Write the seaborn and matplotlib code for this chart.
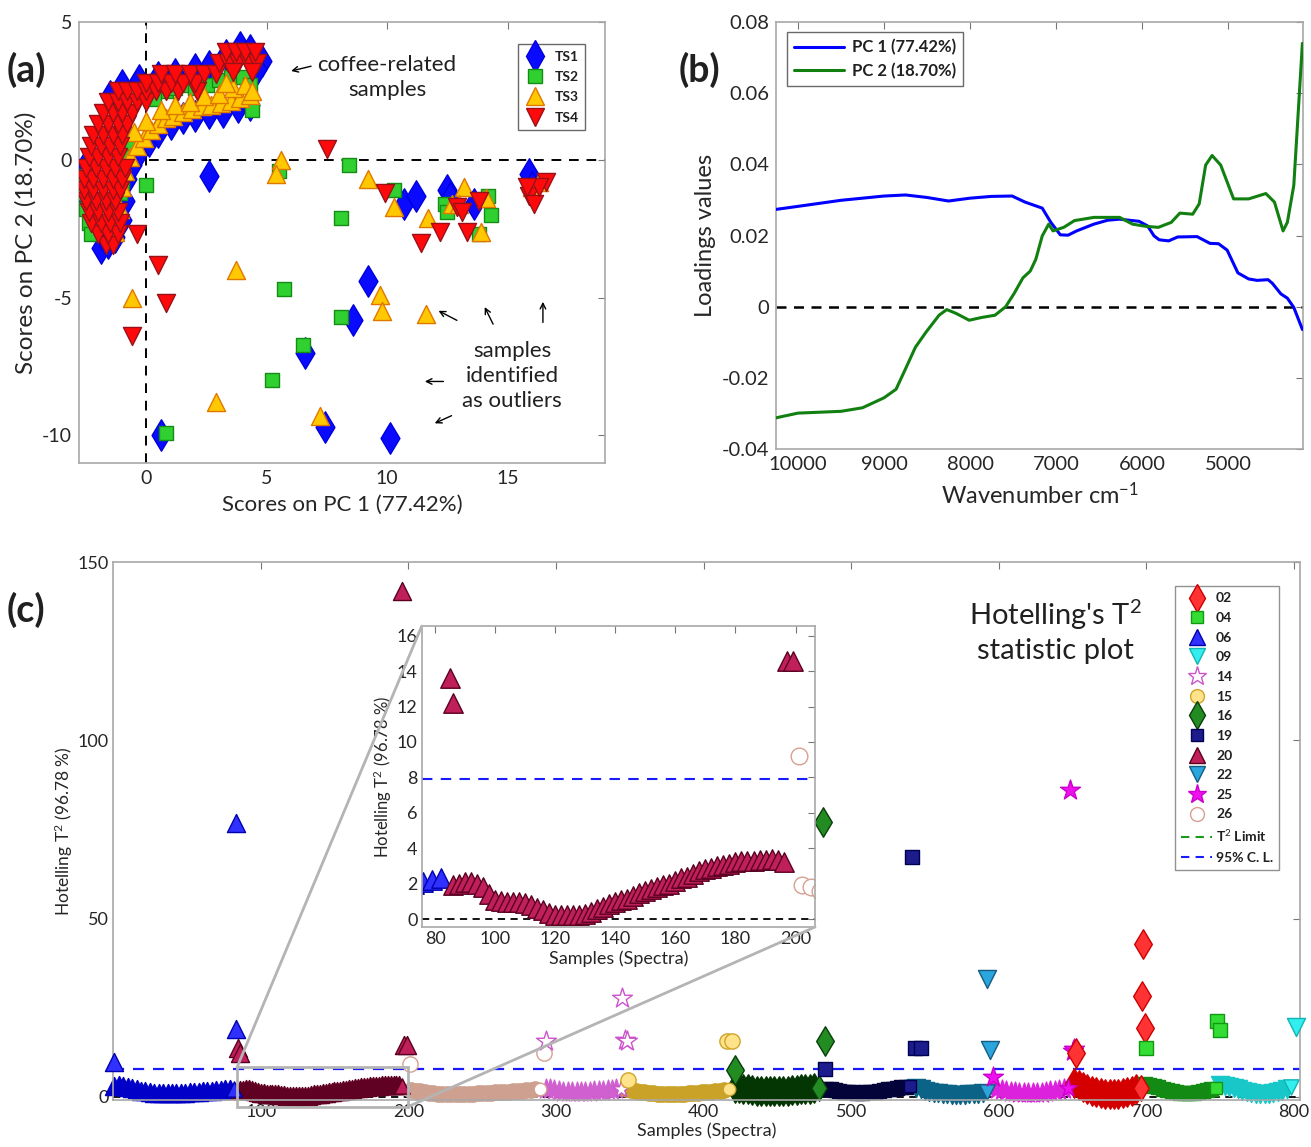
"""PCA scores / loadings and Hotelling T2 plot."""
import numpy as np
import pandas as pd
import matplotlib
matplotlib.use("Agg")
import matplotlib.pyplot as plt
from matplotlib.lines import Line2D
from matplotlib.patches import Rectangle, ConnectionPatch
import seaborn as sns

# ---------------- panel (a): PCA scores ----------------
ts1_x = [-1.9, -1.6, -1.3, -1.0, -0.9, -0.8, -0.6, -0.3, 0.1, 0.5, 1.0, 1.5, 2.0, 2.6, 3.2, 3.8,
         4.3, -1.5, -1.0, -0.3, 0.5, 1.2, 2.0, 2.6, 3.3, 3.9, 4.3, 4.8, 4.6, -2.6, -2.5,
         2.6, 9.2, 8.6, 6.6, 7.4, 10.1, 0.6, 10.7, 11.2, 12.5, 12.6, 13.6, 15.9, 16.0]
ts1_y = [-3.2, -3.0, -2.8, -2.2, -1.5, -0.7, -0.2, 0.3, 0.7, 1.0, 1.3, 1.5, 1.6, 1.7, 1.75, 1.9,
         2.0, 2.3, 2.7, 2.9, 3.0, 3.1, 3.3, 3.4, 3.8, 4.1, 4.0, 3.6, 3.3, -0.3, -1.5,
         -0.6, -4.4, -5.8, -7.0, -9.7, -10.1, -10.0, -1.6, -1.3, -1.1, -1.4, -1.6, -0.5, -1.0]
ts2_x = [-2.6, -2.6, -2.5, -2.4, -2.3, -1.1, -1.0, -1.1, -0.9, 0.8, 1.2, 1.6, 2.0, 2.5, 3.0, 3.5,
         4.0, 4.3, 4.4, 0.3, -0.6,
         0.0, 5.5, 8.4, 8.1, 10.3, 12.4, 12.5, 14.2, 14.3, 13.8, 5.7, 8.1, 6.5, 5.2, 0.8]
ts2_y = [-0.6, -1.2, -1.8, -2.3, -2.7, -0.3, -0.8, -1.2, 0.2, 2.5, 2.6, 2.7, 2.6, 2.7, 2.9, 3.0,
         3.0, 2.7, 1.8, 2.2, 0.6,
         -0.9, -0.4, -0.2, -2.1, -1.1, -1.6, -1.9, -1.3, -2.0, -2.7, -4.7, -5.7, -6.7, -8.0, -9.9]
ts3_x = [-1.3, -1.1, -1.0, -0.9, -0.7, -0.4, -0.1, 0.2, 0.5, 0.8, 1.1, 1.5, 1.9, 2.3, 2.7, 3.1,
         3.5, 3.9, 4.3, -0.5, 0.0, 0.6, 1.2, 1.8, 2.4, 3.0, 3.6, 4.1, 4.4, 3.3,
         5.6, 5.4, 9.2, 10.3, 11.7, 13.2, 12.7, 13.0, 14.1, 13.9, 3.7, 9.7, 9.8, 11.6, -0.6, 2.9,
         7.2, 16.0, 16.3]
ts3_y = [-2.6, -1.8, -1.0, -0.4, 0.1, 0.5, 0.8, 1.1, 1.3, 1.5, 1.6, 1.75, 1.85, 1.95, 2.0, 2.05,
         2.15, 2.25, 2.35, 1.0, 1.4, 1.8, 2.0, 2.1, 2.3, 2.4, 2.6, 2.7, 2.5, 2.8,
         0.0, -0.5, -0.7, -1.7, -2.1, -1.0, -1.6, -1.6, -1.4, -2.6, -4.0, -4.9, -5.5, -5.6, -5.0,
         -8.8, -9.3, -1.0, -0.8]
ts4_x = [-1.7, -1.4, -2.0, -1.6, -1.2, -2.3, -1.9, -1.5, -1.1, -2.4, -2.0, -1.6, -1.2,
         -2.5, -2.1, -1.7, -1.3, -2.6, -2.2, -1.8, -1.4, -1.1, -2.6, -2.2, -1.8, -1.4, -1.0,
         -2.5, -2.1, -1.7, -1.3, -0.9, -2.4, -2.0, -1.6, -1.2, -2.3, -1.9, -1.5, -1.1,
         -2.2, -1.8, -1.4, -1.0, -2.0, -1.6, -1.2, -0.8, -1.8, -1.4, -1.0, -0.6,
         -1.6, -1.2, -0.8, -0.4, 0.0, -1.2, -0.8, -0.4, 0.0, 0.4, 0.8, 1.3, 2.1,
         0.0, 0.5, 1.0, 1.5, 2.0, 0.6, 1.2, 1.8, 2.4, 2.9, 3.0, 3.4, 3.8, 4.2, 4.6,
         3.3, 3.7, 4.1, 4.5, 3.6, 4.4,
         7.5, 9.9, 11.4, 12.2, 13.3, 12.9, 13.1, 13.8, -0.4, 0.5, 0.8, -0.6, 15.9, 16.1, 16.6,
         16.3, 15.8]
ts4_y = [-3.1, -3.1, -2.7, -2.7, -2.7, -2.3, -2.3, -2.3, -2.3, -1.9, -1.9, -1.9, -1.9,
         -1.5, -1.5, -1.5, -1.5, -1.1, -1.1, -1.1, -1.1, -1.1, -0.7, -0.7, -0.7, -0.7, -0.7,
         -0.3, -0.3, -0.3, -0.3, -0.3, 0.1, 0.1, 0.1, 0.1, 0.5, 0.5, 0.5, 0.5,
         0.9, 0.9, 0.9, 0.9, 1.3, 1.3, 1.3, 1.3, 1.7, 1.7, 1.7, 1.7,
         2.1, 2.1, 2.1, 2.1, 2.1, 2.5, 2.5, 2.5, 2.5, 2.5, 2.5, 2.5, 2.5,
         2.8, 2.8, 2.8, 2.8, 2.8, 3.1, 3.1, 3.1, 3.1, 3.1, 3.5, 3.5, 3.5, 3.5, 3.5,
         3.9, 3.9, 3.9, 3.9, 3.2, 3.2,
         0.4, -1.2, -3.0, -2.6, -2.6, -1.7, -1.9, -1.5, -2.7, -3.8, -5.2, -6.4, -1.3, -1.6, -0.8,
         -1.0, -1.0]

# ---------------- panel (b): loadings ----------------
pc1_wn = [10270, 10000, 9500, 9000, 8750, 8500, 8250, 8000, 7750, 7510, 7360, 7160, 7060, 6950,
          6860, 6760, 6560, 6400, 6260, 6035, 5935, 5860, 5800, 5690, 5585, 5360, 5210, 5110,
          5010, 4885, 4760, 4660, 4535, 4485, 4385, 4310, 4235, 4135]
pc1_val = [0.0273, 0.0282, 0.0299, 0.0311, 0.0314, 0.0307, 0.0297, 0.0305, 0.0310, 0.0311,
           0.0294, 0.0277, 0.0237, 0.0202, 0.0201, 0.0213, 0.0232, 0.0243, 0.0246, 0.0240,
           0.0227, 0.0199, 0.0188, 0.0185, 0.0196, 0.0197, 0.0178, 0.0177, 0.0159, 0.0095,
           0.0078, 0.0074, 0.0076, 0.0066, 0.0036, 0.0024, -0.0002, -0.0064]
pc2_wn = [10270, 10000, 9500, 9250, 9000, 8860, 8760, 8635, 8510, 8360, 8270, 8160, 8010, 7860,
          7710, 7585, 7485, 7385, 7300, 7235, 7160, 7085, 7035, 6910, 6785, 6560, 6260, 6110,
          5960, 5810, 5660, 5560, 5410, 5335, 5260, 5185, 5085, 4935, 4760, 4560, 4460, 4360,
          4310, 4235, 4135]
pc2_val = [-0.0313, -0.0299, -0.0294, -0.0284, -0.0256, -0.0232, -0.0180, -0.0114, -0.0071,
           -0.0024, -0.0008, -0.0019, -0.0038, -0.0030, -0.0024, 0.0000, 0.0038, 0.0081, 0.0100,
           0.0133, 0.0199, 0.0232, 0.0213, 0.0223, 0.0242, 0.0251, 0.0251, 0.0232, 0.0226,
           0.0223, 0.0237, 0.0263, 0.0260, 0.0289, 0.0398, 0.0425, 0.0398, 0.0303, 0.0303,
           0.0318, 0.0294, 0.0213, 0.0237, 0.0341, 0.0740]

# ---------------- panel (c): Hotelling T2 per sample group ----------------
g06_x = np.arange(1, 84, 3)
g06_y = [3.2, 3.4, 3.0, 2.7, 2.4, 2.1, 1.8, 1.6, 1.4, 1.2, 1.1, 1.0, 1.0, 1.0, 1.1, 1.1, 1.2, 1.3,
         1.4, 1.5, 1.6, 1.7, 1.8, 1.9, 2.0, 2.1, 2.2, 2.3]
g06_ox, g06_oy = [1, 83, 83], [9.8, 76.7, 19.1]

g20_x = np.arange(86, 197, 2)
g20_y = [1.9, 2.0, 2.1, 2.1, 2.0, 1.8, 1.4, 1.1, 1.0, 0.95, 0.95, 0.95, 0.9, 0.8, 0.6, 0.5,
         0.35, 0.25, 0.2, 0.2, 0.2, 0.25, 0.3, 0.4, 0.55, 0.7, 0.85, 0.95, 1.05, 1.15, 1.3, 1.45,
         1.6, 1.7, 1.8, 1.9, 2.0, 2.15, 2.3, 2.4, 2.55, 2.7, 2.8, 2.9, 3.0, 3.05, 3.1, 3.2, 3.25,
         3.3, 3.3, 3.35, 3.35, 3.4, 3.35, 3.2]
g20_ox, g20_oy = [85, 86, 196, 197, 199], [13.6, 12.2, 142.0, 14.6, 14.6]

g26_x = np.arange(202, 290, 3)
g26_y = [1.9, 1.8, 1.6, 1.4, 1.2, 1.0, 0.9, 0.8, 0.7, 0.7, 0.7, 0.7, 0.8, 0.8, 0.9, 1.0, 1.0, 1.1,
         1.2, 1.3, 1.4, 1.4, 1.5, 1.6, 1.7, 1.8, 1.9, 2.0, 2.1, 2.2]
g26_ox, g26_oy = [201, 292], [9.2, 12.3]

g14_x = np.arange(293, 345, 3)
g14_y = [2.3, 2.1, 1.9, 1.7, 1.5, 1.4, 1.3, 1.3, 1.3, 1.4, 1.5, 1.6, 1.7, 1.8, 1.9, 2.0, 2.1, 2.2]
g14_ox, g14_oy = [293, 345, 347, 348], [15.7, 27.8, 15.9, 15.6]

g15_x = np.arange(348, 418, 3)
g15_y = [2.2, 2.0, 1.8, 1.5, 1.3, 1.1, 1.0, 0.9, 0.8, 0.8, 0.8, 0.8, 0.9, 0.9, 1.0, 1.1, 1.2, 1.3,
         1.4, 1.5, 1.7, 1.8, 2.0, 2.2]
g15_ox, g15_oy = [349, 416, 419], [4.8, 15.7, 15.8]

g16_x = np.arange(421, 480, 3)
g16_y = [2.6, 2.5, 2.3, 2.1, 1.9, 1.8, 1.7, 1.6, 1.6, 1.6, 1.6, 1.7, 1.8, 1.9, 2.0, 2.1, 2.2, 2.3,
         2.4, 2.5]
g16_ox, g16_oy = [421, 481, 482], [7.6, 77.0, 15.8]

g19_x = np.arange(483, 541, 3)
g19_y = [2.3, 2.1, 1.9, 1.7, 1.5, 1.4, 1.3, 1.2, 1.2, 1.3, 1.4, 1.5, 1.7, 1.9, 2.1, 2.3, 2.5, 2.7,
         2.9, 3.0]
g19_ox, g19_oy = [482, 541, 543, 547], [7.9, 67.4, 13.8, 13.8]

g22_x = np.arange(544, 593, 3)
g22_y = [2.4, 2.1, 1.8, 1.5, 1.2, 1.0, 0.8, 0.7, 0.6, 0.6, 0.6, 0.6, 0.7, 0.8, 0.9, 1.1, 1.4]
g22_ox, g22_oy = [592, 594], [33.2, 13.2]

g25_x = np.arange(596, 648, 3)
g25_y = [2.4, 2.2, 2.0, 1.7, 1.5, 1.3, 1.1, 1.0, 1.0, 1.0, 1.1, 1.2, 1.4, 1.6, 1.8, 2.0, 2.2, 2.4]
g25_ox, g25_oy = [596, 648, 650, 651], [5.6, 86.0, 12.9, 13.4]

g02_x = np.arange(651, 697, 3)
g02_y = [3.8, 3.3, 2.8, 2.3, 1.8, 1.4, 1.1, 0.9, 0.8, 0.8, 0.9, 1.1, 1.4, 1.8, 2.2, 2.5]
g02_ox, g02_oy = [652, 698, 697, 699], [12.2, 43.0, 28.2, 19.4]

g04_x = np.arange(699, 748, 3)
g04_y = [3.5, 3.3, 3.0, 2.7, 2.3, 2.0, 1.7, 1.4, 1.2, 1.1, 1.1, 1.2, 1.4, 1.6, 1.9, 2.2, 2.5]
g04_ox, g04_oy = [700, 748, 750], [13.7, 21.3, 18.9]

g09_x = np.arange(750, 799, 3)
g09_y = [3.4, 3.2, 2.9, 2.5, 2.1, 1.7, 1.3, 1.0, 0.8, 0.7, 0.7, 0.8, 1.0, 1.3, 1.7, 2.2, 2.8]
g09_ox, g09_oy = [801], [19.6]

cl95 = 7.9

# group styles: label, data, marker, size, face, edge, dense-band colour
groups = [
    ("06", g06_x, g06_y, g06_ox, g06_oy, "^", 13, "#3030ff", "#0000b0", "#0000c8"),
    ("20", g20_x, g20_y, g20_ox, g20_oy, "^", 13, "#c0205a", "#5a0020", "#600022"),
    ("26", g26_x, g26_y, g26_ox, g26_oy, "o", 11, "white", "#d6a090", "#cea090"),
    ("14", g14_x, g14_y, g14_ox, g14_oy, "*", 15, "white", "#cc55cc", "#d060d0"),
    ("15", g15_x, g15_y, g15_ox, g15_oy, "o", 11, "#ffe38a", "#d0a42a", "#c9a227"),
    ("16", g16_x, g16_y, g16_ox, g16_oy, "d", 15, "#228b22", "#0b3d0b", "#043604"),
    ("19", g19_x, g19_y, g19_ox, g19_oy, "s", 10, "#1c1c8c", "#000050", "#03033a"),
    ("22", g22_x, g22_y, g22_ox, g22_oy, "v", 13, "#2aa5dd", "#145d80", "#0b6488"),
    ("25", g25_x, g25_y, g25_ox, g25_oy, "*", 15, "#ee11ee", "#cc00cc", "#dd22dd"),
    ("02", g02_x, g02_y, g02_ox, g02_oy, "d", 15, "#ff3333", "#cc0000", "#d40000"),
    ("04", g04_x, g04_y, g04_ox, g04_oy, "s", 10, "#33dd33", "#119911", "#138a13"),
    ("09", g09_x, g09_y, g09_ox, g09_oy, "v", 13, "#33eeee", "#11b5b5", "#18c8c8"),
]
legend_order = ["02", "04", "06", "09", "14", "15", "16", "19", "20", "22", "25", "26"]

# ---------------- style ----------------
sns.set_style("white")
plt.rcParams["font.family"] = ["Lato", "DejaVu Sans"]
plt.rcParams["mathtext.fontset"] = "custom"
plt.rcParams["mathtext.rm"] = "Lato"
plt.rcParams["mathtext.it"] = "Lato:italic"
plt.rcParams["mathtext.bf"] = "Lato:bold"
plt.rcParams["axes.unicode_minus"] = False
plt.rcParams["text.color"] = "#202020"

FRAME = "#a8a8a8"
TICKTXT = "#262626"


def matlab_box(ax, size):
    for sp in ax.spines.values():
        sp.set_color(FRAME)
        sp.set_linewidth(1.2)
    ax.tick_params(direction="in", top=True, right=True, length=5, color="#777777",
                   labelsize=size, labelcolor=TICKTXT, pad=5)


fig = plt.figure(figsize=(13.11, 11.47), dpi=100)
ax_a = fig.add_axes([0.0603, 0.5963, 0.4012, 0.3845])
ax_b = fig.add_axes([0.5919, 0.6085, 0.4020, 0.3723])
ax_c = fig.add_axes([0.0862, 0.0410, 0.9054, 0.4690])
ax_in = fig.add_axes([0.3217, 0.1918, 0.3000, 0.2624])

# ---------------- (a) ----------------
ax_a.axhline(0, color="black", ls="--", lw=1.4, dashes=(5, 4), zorder=1)
ax_a.axvline(0, color="black", ls="--", lw=1.4, dashes=(5, 4), zorder=1)
series_a = [
    ("TS1", ts1_x, ts1_y, "d", 16, "#0a0aff", "#0000dd"),
    ("TS2", ts2_x, ts2_y, "s", 10, "#30d030", "#158c15"),
    ("TS3", ts3_x, ts3_y, "^", 13, "#ffc800", "#e07800"),
    ("TS4", ts4_x, ts4_y, "v", 13, "#ff0a0a", "#9a1018"),
]
handles_a = []
for lab, xs, ys, mk, ms, fc, ec in series_a:
    sns.scatterplot(x=xs, y=ys, marker=mk, s=ms ** 2, color=fc, edgecolor=ec,
                    linewidth=1.0, ax=ax_a, zorder=3, legend=False)
    handles_a.append(Line2D([], [], ls="none", marker=mk, ms=ms, mfc=fc, mec=ec, label=lab))
ax_a.set_xlim(-2.8, 19.05)
ax_a.set_ylim(-11, 5)
ax_a.set_xticks([0, 5, 10, 15])
ax_a.set_yticks([-10, -5, 0, 5])
matlab_box(ax_a, 14)
ax_a.set_xlabel("Scores on PC 1 (77.42%)", fontsize=16, color=TICKTXT, labelpad=6)
ax_a.set_ylabel("Scores on PC 2 (18.70%)", fontsize=17.5, color=TICKTXT, labelpad=4)
leg_a = ax_a.legend(handles=handles_a, loc="upper right", bbox_to_anchor=(0.975, 0.965),
                    prop={"weight": "bold", "size": 10}, frameon=True, fancybox=False,
                    edgecolor="#444444", labelspacing=0.6, handletextpad=0.6,
                    borderpad=0.45, handlelength=1.6)
leg_a.get_frame().set_linewidth(1.0)

ax_a.text(10.0, 3.0, "coffee-related\nsamples", ha="center", va="center", fontsize=16,
          color="#202020", linespacing=1.3)
ax_a.annotate("", xy=(5.9, 3.2), xytext=(6.95, 3.42),
              arrowprops=dict(arrowstyle="->", color="black", lw=1.0))
ax_a.text(15.2, -7.85, "samples\nidentified\nas outliers", ha="center", va="center",
          fontsize=16, color="#202020", linespacing=1.3)
for tip, tail in [((14.0, -5.25), (14.45, -6.05)), ((16.47, -5.05), (16.47, -6.0)),
                  ((12.03, -5.43), (13.0, -5.87)), ((11.45, -8.04), (12.45, -8.04)),
                  ((11.87, -9.6), (12.78, -9.24))]:
    ax_a.annotate("", xy=tip, xytext=tail,
                  arrowprops=dict(arrowstyle="->", color="black", lw=1.0))

# ---------------- (b) ----------------
load = pd.concat([
    pd.DataFrame({"wn": pc1_wn, "val": pc1_val, "pc": "PC 1 (77.42%)"}),
    pd.DataFrame({"wn": pc2_wn, "val": pc2_val, "pc": "PC 2 (18.70%)"}),
])
ax_b.axhline(0, color="black", ls="--", lw=1.8, dashes=(4, 3), zorder=1)
sns.lineplot(data=load, x="wn", y="val", hue="pc", sort=False, estimator=None,
             palette=["#0000ff", "#118011"], lw=2.2, ax=ax_b, zorder=3)
ax_b.set_xlim(10256, 4128)
ax_b.set_ylim(-0.04, 0.08)
ax_b.set_xticks([10000, 9000, 8000, 7000, 6000, 5000])
bt = [-0.04, -0.02, 0, 0.02, 0.04, 0.06, 0.08]
ax_b.set_yticks(bt)
ax_b.set_yticklabels([f"{v:g}" for v in bt])
matlab_box(ax_b, 14.5)
ax_b.set_xlabel("Wavenumber cm$^{-1}$", fontsize=17, color=TICKTXT, labelpad=6)
ax_b.set_ylabel("Loadings values", fontsize=17, color=TICKTXT, labelpad=4)
leg_b = ax_b.legend(loc="upper left", bbox_to_anchor=(0.005, 0.995), title=None,
                    prop={"weight": "bold", "size": 12}, frameon=True, fancybox=False,
                    edgecolor="#444444", handlelength=3.0, labelspacing=0.45,
                    handletextpad=0.5, borderpad=0.4)
leg_b.get_frame().set_linewidth(1.0)

# ---------------- (c) main ----------------
ax_c.axhline(0, color="black", ls="--", lw=1.3, dashes=(4, 3), zorder=1)
ax_c.axhline(cl95, color="#1a1aff", ls="--", lw=1.6, dashes=(5, 4), zorder=1.5)
for lab, xs, ys, oxs, oys, mk, ms, fc, ec, band in groups:
    sns.scatterplot(x=xs[:-1], y=ys[:-1], marker=mk, s=ms ** 2, color=band,
                    edgecolor=band, linewidth=1.0, ax=ax_c, zorder=2, legend=False,
                    clip_on=False)
    sns.scatterplot(x=xs[-1:], y=ys[-1:], marker=mk, s=(ms - 2) ** 2, color=fc,
                    edgecolor=ec, linewidth=1.0, ax=ax_c, zorder=2.5, legend=False,
                    clip_on=False)
for lab, xs, ys, oxs, oys, mk, ms, fc, ec, band in groups:
    sns.scatterplot(x=oxs, y=oys, marker=mk, s=ms ** 2, color=fc, edgecolor=ec,
                    linewidth=1.0, ax=ax_c, zorder=3, legend=False, clip_on=False)
ax_c.set_xlim(0, 804)
ax_c.set_ylim(-0.85, 150)
ax_c.set_xticks(range(100, 801, 100))
ax_c.set_yticks([0, 50, 100, 150])
matlab_box(ax_c, 13)
ax_c.tick_params(pad=3)
ax_c.set_xlabel("Samples (Spectra)", fontsize=13, color=TICKTXT, labelpad=2)
ax_c.set_ylabel("Hotelling T$^2$ (96.78 %)", fontsize=12.5, color=TICKTXT, labelpad=2)
ax_c.text(0.794, 0.872, "Hotelling's T$^2$\nstatistic plot", transform=ax_c.transAxes,
          ha="center", va="center", fontsize=21, color="#202020", linespacing=1.25)

style = {g[0]: g for g in groups}
handles_c = []
for lab in legend_order:
    g = style[lab]
    handles_c.append(Line2D([], [], ls="none", marker=g[5], ms=g[6] - 1, mfc=g[7], mec=g[8],
                            label=lab))
handles_c.append(Line2D([], [], color="#1a9a1a", ls="--", lw=1.5, dashes=(4, 3),
                        label="T$^2$ Limit"))
handles_c.append(Line2D([], [], color="#1a1aff", ls="--", lw=1.5, dashes=(4, 3),
                        label="95% C. L."))
leg_c = ax_c.legend(handles=handles_c, loc="upper right", bbox_to_anchor=(0.9885, 0.968),
                    prop={"weight": "bold", "size": 10}, frameon=True, fancybox=False,
                    edgecolor="#777777", labelspacing=0.55, handletextpad=0.3,
                    borderpad=0.45, handlelength=2.2)
leg_c.get_frame().set_linewidth(1.0)

# zoom box on the main axes
ax_c.add_patch(Rectangle((84, -2.7), 116, 11.0, fill=False, edgecolor="#b4b4b4", lw=2,
                         clip_on=False, zorder=4))

# ---------------- (c) inset ----------------
ax_in.set_facecolor("white")
ax_in.axhline(0, color="black", ls="--", lw=1.3, dashes=(4, 3), zorder=1)
ax_in.axhline(cl95, color="#1a1aff", ls="--", lw=1.5, dashes=(5, 4), zorder=1)
for lab, xs, ys, oxs, oys, mk, ms, fc, ec, band in groups[:3]:
    sns.scatterplot(x=xs, y=ys, marker=mk, s=(ms + 1) ** 2, color=fc, edgecolor=ec,
                    linewidth=1.0, ax=ax_in, zorder=2, legend=False)
    sns.scatterplot(x=oxs, y=oys, marker=mk, s=(ms + 1) ** 2, color=fc, edgecolor=ec,
                    linewidth=1.0, ax=ax_in, zorder=3, legend=False)
ax_in.set_xlim(75.5, 206.5)
ax_in.set_ylim(-0.45, 16.55)
ax_in.set_xticks(range(80, 201, 20))
ax_in.set_yticks(range(0, 17, 2))
matlab_box(ax_in, 13)
ax_in.tick_params(pad=3)
ax_in.set_xlabel("Samples (Spectra)", fontsize=13, color=TICKTXT, labelpad=2)
ax_in.set_ylabel("Hotelling T$^2$ (96.78 %)", fontsize=12, color=TICKTXT, labelpad=2)

for xy_main, xy_in in [((84, 8.3), (0, 1)), ((200, -2.7), (1, 0))]:
    con = ConnectionPatch(xyA=xy_main, coordsA=ax_c.transData, xyB=xy_in,
                          coordsB=ax_in.transAxes, color="#b4b4b4", lw=2, zorder=0.5)
    fig.add_artist(con)

# panel letters
fig.text(0.005, 0.939, "(a)", fontsize=27, fontweight="bold", ha="left", va="center")
fig.text(0.518, 0.939, "(b)", fontsize=27, fontweight="bold", ha="left", va="center")
fig.text(0.005, 0.468, "(c)", fontsize=27, fontweight="bold", ha="left", va="center")

fig.savefig("out.png", dpi=100)
